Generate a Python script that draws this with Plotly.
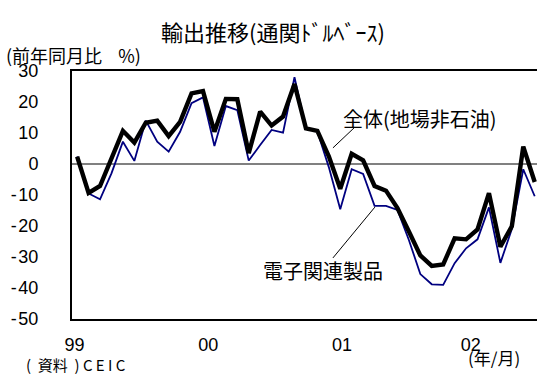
import plotly.graph_objects as go

# monthly, Jan 1999 .. May 2002
months = [f"{y:02d}/{m}" for y in (99, 0, 1, 2) for m in range(1, 13)][:41]
total = [2.4, -9.3, -7.1, 1.5, 10.7, 6.9, 13.3, 14.0, 9.0, 13.6, 22.8, 23.5,
         10.4, 21.0, 20.9, 3.5, 16.9, 12.4, 15.3, 25.8, 11.5, 10.7, 2.5, -8.0,
         3.3, 1.2, -7.1, -8.6, -14.2, -21.8, -29.5, -32.9, -32.4, -24.0, -24.3, -21.1,
         -9.4, -26.7, -20.1, 5.6, -5.8]
electronics = [2.4, -9.5, -11.4, -3.0, 7.2, 1.0, 14.0, 7.2, 4.0, 10.4, 19.6, 21.5,
               5.8, 18.7, 17.4, 1.1, 6.1, 11.0, 10.1, 28.0, 11.5, 10.5, -1.0, -14.6,
               -1.7, -3.2, -13.5, -13.5, -14.8, -24.5, -35.5, -38.8, -39.0, -32.0, -27.2, -24.3,
               -14.0, -31.9, -21.0, -1.7, -10.4]
year_labels = ["99", "00", "01", "02"]
year_pos = [-0.24, 11.46, 23.15, 34.4]
yticks = [30, 20, 10, 0, -10, -20, -30, -40, -50]
ytick_text = ["30", "20", "10", "0", "-\u200a10", "-\u200a20", "-\u200a30", "-\u200a40", "-\u200a50"]

x = list(range(len(months)))
JP = "Noto Sans CJK JP"
NUM = "Liberation Sans"
NB = "\u00a0"

fig = go.Figure()
fig.add_trace(go.Scatter(x=x, y=electronics, mode="lines", name="電子関連製品",
                         line=dict(color="#000080", width=1.8), hoverinfo="skip"))
fig.add_trace(go.Scatter(x=x, y=total, mode="lines", name="全体(地場非石油)",
                         line=dict(color="black", width=4.4), hoverinfo="skip"))

fig.add_hline(y=0, line=dict(color="#808080", width=2), layer="below")

# leader lines for labels
fig.add_shape(type="line", xref="x", yref="y", x0=22.36, y0=5.2, x1=24.28, y1=11.9,
              line=dict(color="black", width=1))
fig.add_shape(type="line", xref="x", yref="y", x0=22.36, y0=-30.3, x1=26.03, y1=-13.9,
              line=dict(color="black", width=1))

fig.add_annotation(x=23.1, y=14.8, xref="x", yref="y", text="全体(地場非石油)",
                   showarrow=False, xanchor="left", yanchor="middle",
                   font=dict(family=JP, size=20, color="black"))
fig.add_annotation(x=26.9, y=-34.2, xref="x", yref="y", text="電子関連製品",
                   showarrow=False, xanchor="right", yanchor="middle",
                   font=dict(family=JP, size=20, color="black"))

paper_notes = [
    (273, 31, "輸出推移(通関ﾄﾞﾙﾍﾞｰｽ)", "center", 22),
    (4, 55, "(前年同月比" + NB * 4 + "%)", "left", 18),
    (24, 364, "(" + NB * 2 + "資料" + NB * 2 + ")" + NB + "C" + NB + "E" + NB + "I" + NB + "C", "left", 15),
    (522, 357, "(年/月)", "right", 17),
]

W, H = 537, 376
L, R, T, B = 72, 0, 71, 57
pw, ph = W - L - R, H - T - B
for px, py, txt, anc, sz in paper_notes:
    fig.add_annotation(x=(px - L) / pw, y=1 - (py - T) / ph, xref="paper", yref="paper",
                       text=txt, showarrow=False, xanchor=anc, yanchor="middle",
                       font=dict(family=JP, size=sz, color="black"))

fig.update_layout(
    width=W, height=H, margin=dict(l=L, r=R, t=T, b=B),
    paper_bgcolor="white", plot_bgcolor="white", showlegend=False,
    xaxis=dict(range=[-0.45, 40.2], tickvals=year_pos, ticktext=year_labels,
               showgrid=False, zeroline=False, showline=True, linecolor="black",
               linewidth=2, mirror=True, ticks="", ticklabelstandoff=8,
               tickfont=dict(family=NUM, size=18, color="black")),
    yaxis=dict(range=[-50, 30], tickvals=yticks, ticktext=ytick_text, showgrid=False,
               zeroline=False, showline=True, linecolor="black", linewidth=2, ticks="",
               ticklabelstandoff=28,
               tickfont=dict(family=NUM, size=18, color="black")),
)
fig.write_html("out.html")
